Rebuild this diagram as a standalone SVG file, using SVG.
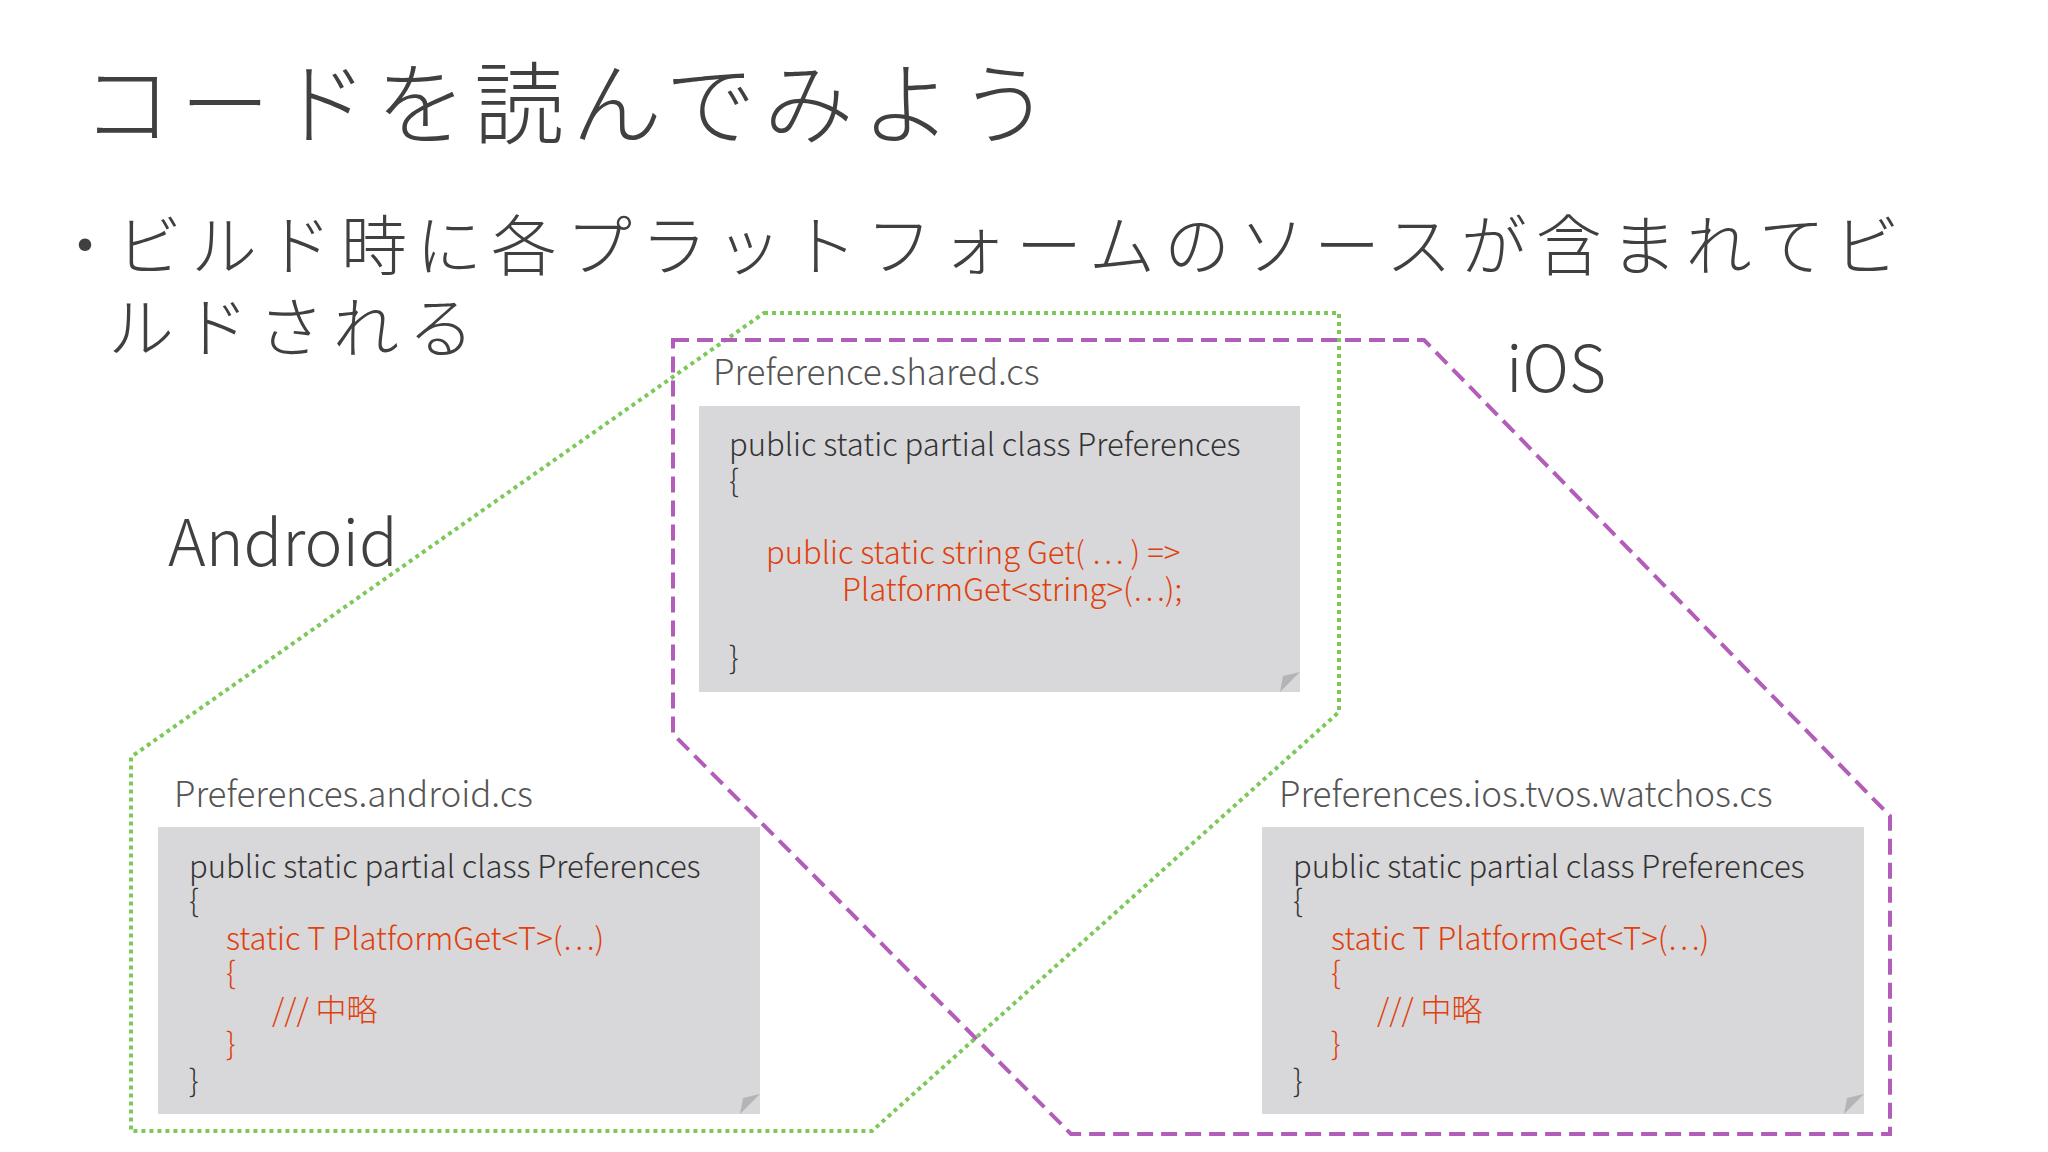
<svg xmlns="http://www.w3.org/2000/svg" width="2048" height="1152" viewBox="0 0 2048 1152">
<style>
text{font-family:"Noto Sans CJK JP","Noto Sans",sans-serif;font-weight:300;fill:#404040}
.t{font-size:90px;letter-spacing:8px}.b{font-size:66px;letter-spacing:9px}.p{font-size:64px}
.lbl{font-size:35px;fill:#555}
.c{font-size:31px;fill:#333}
.r{fill:#e0400c}
.box{fill:#d8d7d9}
.fold{fill:#b4b4b6}
</style>
<rect width="2048" height="1152" fill="#fff"/>
<g id="title"><text class="t" x="82" y="137">コードを読んでみよう</text></g>
<g id="bullet"><text class="b" x="52" y="270">・</text><text class="b" x="116" y="270">ビルド時に各プラットフォームのソースが含まれてビ</text><text class="b" x="108" y="352">ルドされる</text></g>
<g id="connectors">
<polygon points="764,313 1339,313 1339,712 872,1131 131,1131 131,757" fill="none" stroke="#7cc95a" stroke-width="4" stroke-dasharray="4,4"/>
<polygon points="673,340 1424,340 1890,816 1890,1134 1071,1134 673,734" fill="none" stroke="#b25db9" stroke-width="4" stroke-dasharray="16,8"/>
</g>
<g id="android-label"><text class="p" x="168" y="566">Android</text></g>
<g id="ios-label"><text class="p" x="1506" y="392">iOS</text></g>
<g id="shared">
<text class="lbl" x="713" y="385">Preference.shared.cs</text>
<rect class="box" x="699" y="406" width="601" height="286"/>
<polygon class="fold" points="1300,672 1280,692 1283,676"/>
<text class="c" x="729" y="456">public static partial class Preferences</text>
<text class="c" x="729" y="492">{</text>
<text class="c r" x="766" y="564">public static string Get( ⋯ ) =&gt;</text>
<text class="c r" x="842" y="601">PlatformGet&lt;string&gt;(⋯);</text>
<text class="c" x="729" y="669">}</text>
</g>
<g id="android">
<text class="lbl" x="174" y="807">Preferences.android.cs</text>
<rect class="box" x="158" y="827" width="602" height="287"/>
<polygon class="fold" points="760,1094 740,1114 743,1098"/>
<text class="c" x="189" y="878">public static partial class Preferences</text>
<text class="c" x="189" y="912">{</text>
<text class="c r" x="226" y="950">static T PlatformGet&lt;T&gt;(⋯)</text>
<text class="c r" x="226" y="984">{</text>
<text class="c r" x="272" y="1021">/// 中略</text>
<text class="c r" x="226" y="1055">}</text>
<text class="c" x="189" y="1092">}</text>
</g>
<g id="ios">
<text class="lbl" x="1279" y="807">Preferences.ios.tvos.watchos.cs</text>
<rect class="box" x="1262" y="827" width="602" height="287"/>
<polygon class="fold" points="1864,1094 1844,1114 1847,1098"/>
<text class="c" x="1293" y="878">public static partial class Preferences</text>
<text class="c" x="1293" y="912">{</text>
<text class="c r" x="1331" y="950">static T PlatformGet&lt;T&gt;(⋯)</text>
<text class="c r" x="1331" y="984">{</text>
<text class="c r" x="1377" y="1021">/// 中略</text>
<text class="c r" x="1331" y="1055">}</text>
<text class="c" x="1293" y="1092">}</text>
</g>
</svg>
